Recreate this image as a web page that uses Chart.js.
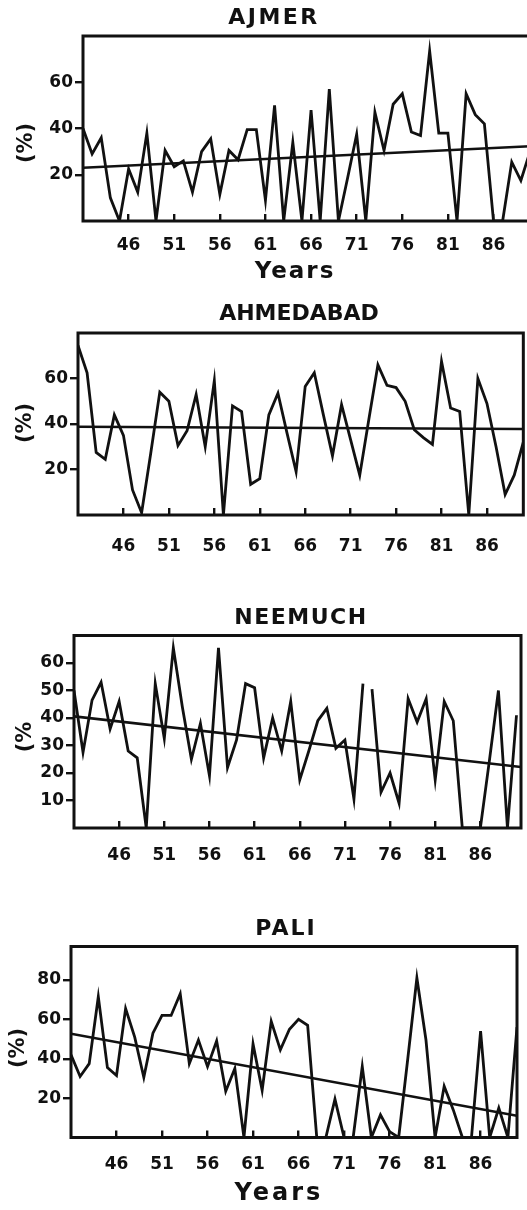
<!DOCTYPE html>
<html>
<head>
<meta charset="utf-8">
<script src="https://cdn.jsdelivr.net/npm/chart.js@4.4.1/dist/chart.umd.min.js"></script>
<style>
  html, body { margin: 0; padding: 0; background: #ffffff; overflow: hidden; width: 527px; height: 1210px; }
  canvas.panel { position: absolute; left: 0; }
</style>
</head>
<body>
<canvas id="c1" class="panel"></canvas>
<canvas id="c2" class="panel"></canvas>
<canvas id="c3" class="panel"></canvas>
<canvas id="c4" class="panel"></canvas>
<script>
// ---------------- data (two-digit years, 1941-1990) ----------------
const years = [41,42,43,44,45,46,47,48,49,50,51,52,53,54,55,56,57,58,59,60,
               61,62,63,64,65,66,67,68,69,70,71,72,73,74,75,76,77,78,79,80,
               81,82,83,84,85,86,87,88,89,90];

const ajmer = [40,29,36,10,0,22.5,12.5,38,0,30.5,23.5,26,12.5,30,35.5,11.5,30.5,26.5,39.5,39.5,
               9,50,0,34,0,48,0,57,0,18.5,37.5,0,47,30.5,50.5,55,38.5,37,73.5,38,
               38,0,55,46,42,0,0,25.5,17.5,30];

const ahmedabad = [74.5,62.5,27.5,24.5,44,35,11,1,27,54,50,30.5,37,53,30,59,0,48,45.5,13.5,
                   16,44,53.5,36,19,56.5,62.5,44,26,48.5,33,17.5,42,66,57,56,50,37.5,34,31,
                   67.5,47,45.5,0,60,49,30,9,17.5,32];

const neemuch = [50,27.5,46.5,53,36,46,28,25.5,0,52.5,32.5,65.5,44,25,38,19,65.5,22,32,52.5,
                 51,25.5,40,28,46,17.5,28,39,43.5,29,32,10.5,52.5,50.5,13,20,9,47,38.5,47,
                 17.5,46,39,0,0,0,24.5,50,0,41];

const pali = [42,31,37.5,71.5,35.5,31.5,65.5,51,30.5,53,62,62,73,37.5,49.5,36,49,23.5,35,0,
              47.5,24,59,44.5,55,60,57,0,0,19.5,0,0,36,0,11.5,3,0,40,81,49.5,
              0,26,14,0,0,54,0,15,0,56];

// trend lines (end points)
const trendYears        = [41, 90];
const neemuchTrendYears = [41, 90.5];
const ajmerTrend     = [23, 32.3];
const ahmedabadTrend = [38.8, 37.8];
const neemuchTrend   = [40.6, 22.2];
const paliTrend      = [52.7, 11];

// segments not drawn (start year of the broken segment)
const neemuchGaps = [73];

// tick labels
const xTickValues   = [46,51,56,61,66,71,76,81,86];
const yTicksAjmer   = [20,40,60];
const yTicksAhmed   = [20,40,60];
const yTicksNeemuch = [10,20,30,40,50,60];
const yTicksPali    = [20,40,60,80];

// ---------------- plugins ----------------
const INK = '#111111';
const FONT = '"DejaVu Sans", "Liberation Sans", sans-serif';

const panelText = {
  id: 'panelText',
  afterDraw(chart, args, opts) {
    const ctx = chart.ctx;
    (opts.items || []).forEach(it => {
      ctx.save();
      ctx.font = it.font;
      ctx.fillStyle = INK;
      ctx.textAlign = 'center';
      ctx.textBaseline = 'middle';
      if ('letterSpacing' in ctx) ctx.letterSpacing = (it.spacing || 0) + 'px';
      ctx.translate(it.x, it.y);
      if (it.rotate) ctx.rotate(it.rotate);
      ctx.fillText(it.text, 0, 0);
      ctx.restore();
    });
  }
};

const frame = {
  id: 'frame',
  afterDatasetsDraw(chart, args, opts) {
    const { left, top, right, bottom } = chart.chartArea;
    const ctx = chart.ctx;
    ctx.save();
    ctx.strokeStyle = INK;
    ctx.lineWidth = opts.width || 2.8;
    ctx.strokeRect(left, top, right - left, bottom - top);
    ctx.restore();
  }
};

Chart.register(panelText, frame);

// ---------------- panels ----------------
function makePanel(cfg) {
  const canvas = document.getElementById(cfg.id);
  canvas.width = cfg.w;
  canvas.height = cfg.h;
  canvas.style.top = cfg.top + 'px';
  canvas.style.width = cfg.w + 'px';
  canvas.style.height = cfg.h + 'px';

  const series = cfg.xs.map((x, i) => ({ x: x, y: cfg.values[i] }));
  const trend = cfg.trendX.map((x, i) => ({ x: x, y: cfg.trend[i] }));
  const gaps = cfg.gaps || [];

  new Chart(canvas, {
    type: 'line',
    data: {
      datasets: [
        {
          data: series,
          borderColor: INK,
          borderWidth: 2.8,
          pointRadius: 0,
          tension: 0,
          fill: false,
          segment: {
            borderColor: c => gaps.includes(c.p0.parsed.x) ? 'rgba(0,0,0,0)' : undefined
          }
        },
        {
          data: trend,
          borderColor: INK,
          borderWidth: 2.6,
          pointRadius: 0,
          tension: 0,
          fill: false
        }
      ]
    },
    options: {
      responsive: false,
      animation: false,
      devicePixelRatio: 1,
      layout: { padding: { left: 0, top: cfg.area.top, right: cfg.w - cfg.area.right, bottom: 0 } },
      plugins: {
        legend: { display: false },
        tooltip: { enabled: false },
        title: { display: false },
        panelText: { items: cfg.texts },
        frame: { width: 3 }
      },
      scales: {
        x: {
          type: 'linear',
          min: cfg.xMin,
          max: cfg.xMax,
          afterFit: s => { s.height = cfg.h - cfg.area.bottom; },
          afterBuildTicks: s => { s.ticks = xTickValues.map(v => ({ value: v })); },
          grid: { drawOnChartArea: false, drawTicks: true, tickLength: -7, color: INK, lineWidth: 2.4 },
          border: { display: false },
          ticks: {
            autoSkip: false, maxRotation: 0, minRotation: 0,
            color: INK, padding: cfg.xPad,
            font: { family: FONT, size: 17, weight: 'bold' }
          }
        },
        y: {
          min: 0,
          max: cfg.yMax,
          afterFit: s => { s.width = cfg.area.left; },
          afterBuildTicks: s => { s.ticks = cfg.yTicks.map(v => ({ value: v })); },
          grid: { drawOnChartArea: false, drawTicks: true, tickLength: 8, color: INK, lineWidth: 2.4 },
          border: { display: false },
          ticks: {
            autoSkip: false, color: INK, padding: 2,
            font: { family: FONT, size: 17, weight: 'bold' }
          }
        }
      }
    }
  });
}

const titleFont = 'bold 22px ' + FONT;
const pctFont = 'bold 21px ' + FONT;

makePanel({
  id: 'c1', top: 0, w: 531, h: 290,
  area: { left: 83, top: 36, right: 530, bottom: 221 },
  xs: years, values: ajmer, trendX: trendYears, trend: ajmerTrend,
  xMin: 41, xMax: 90, yMax: 80, yTicks: yTicksAjmer, xPad: 21,
  texts: [
    { text: 'AJMER', x: 274, y: 18, font: titleFont, spacing: 2.5 },
    { text: '(%)', x: 27, y: 143, font: pctFont, rotate: -Math.PI / 2 },
    { text: 'Years', x: 295, y: 272, font: 'bold 23px ' + FONT, spacing: 2 }
  ]
});

makePanel({
  id: 'c2', top: 290, w: 527, h: 300,
  area: { left: 78, top: 43, right: 524.5, bottom: 225 },
  xs: years, values: ahmedabad, trendX: trendYears, trend: ahmedabadTrend,
  xMin: 41, xMax: 90, yMax: 80, yTicks: yTicksAhmed, xPad: 28,
  texts: [
    { text: 'AHMEDABAD', x: 299, y: 24, font: titleFont, spacing: 0 },
    { text: '(%)', x: 26, y: 133, font: pctFont, rotate: -Math.PI / 2 }
  ]
});

makePanel({
  id: 'c3', top: 590, w: 527, h: 300,
  area: { left: 74, top: 45.5, right: 521, bottom: 238 },
  xs: years, values: neemuch, trendX: neemuchTrendYears, trend: neemuchTrend, gaps: neemuchGaps,
  xMin: 41, xMax: 90.5, yMax: 70, yTicks: yTicksNeemuch, xPad: 24,
  texts: [
    { text: 'NEEMUCH', x: 301, y: 28, font: titleFont, spacing: 1.5 },
    { text: '(%', x: 26, y: 147, font: pctFont, rotate: -Math.PI / 2 }
  ]
});

makePanel({
  id: 'c4', top: 890, w: 527, h: 320,
  area: { left: 71, top: 56.5, right: 517, bottom: 247.5 },
  xs: years, values: pali, trendX: trendYears, trend: paliTrend,
  xMin: 41, xMax: 90, yMax: 97, yTicks: yTicksPali, xPad: 24,
  texts: [
    { text: 'PALI', x: 286, y: 39, font: titleFont, spacing: 2 },
    { text: '(%)', x: 19, y: 158, font: pctFont, rotate: -Math.PI / 2 },
    { text: 'Years', x: 279, y: 304, font: 'bold 24px ' + FONT, spacing: 3 }
  ]
});
</script>
</body>
</html>
